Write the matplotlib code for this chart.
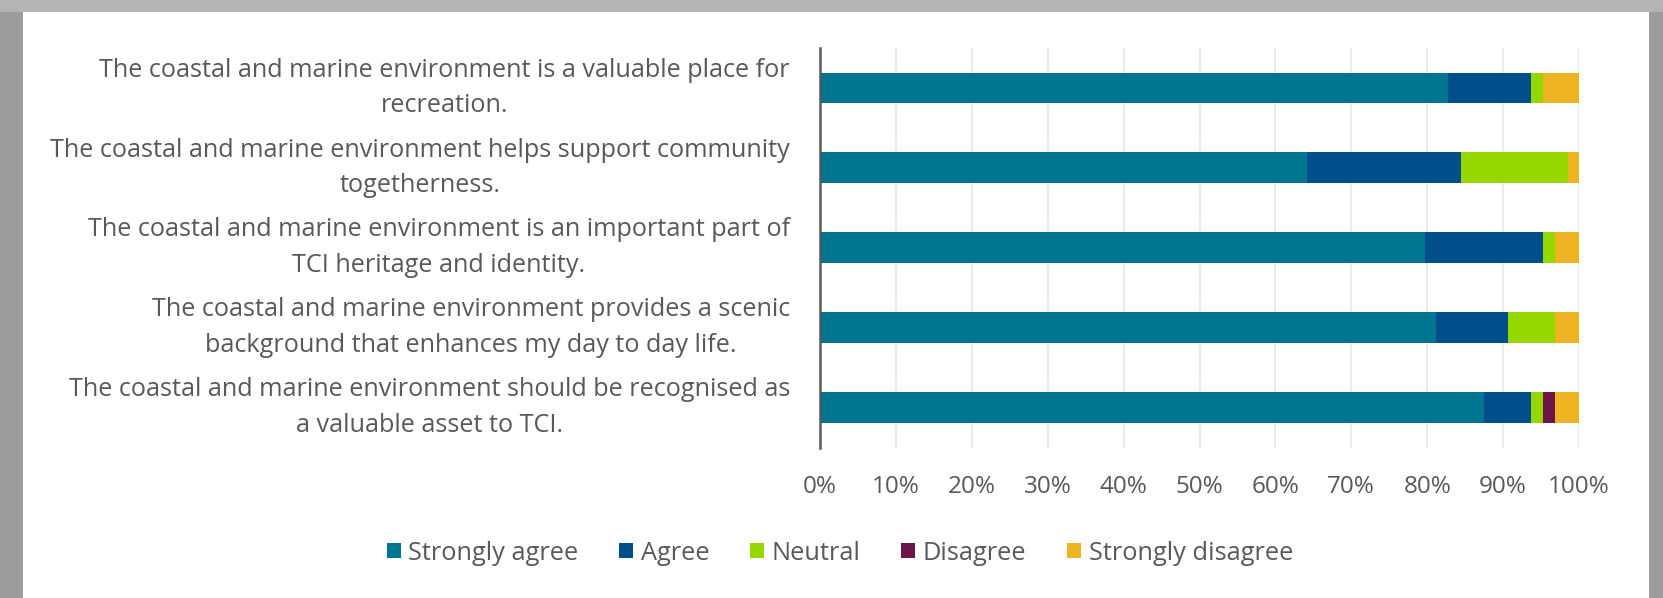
import matplotlib
matplotlib.use("Agg")
import matplotlib.pyplot as plt
from matplotlib.patches import Rectangle
from matplotlib.transforms import ScaledTranslation, blended_transform_factory
import numpy as np

categories = [
    "The coastal and marine environment is a valuable place for\nrecreation.",
    "The coastal and marine environment helps support community\ntogetherness.",
    "The coastal and marine environment is an important part of\nTCI heritage and identity.",
    "The coastal and marine environment provides a scenic\nbackground that enhances my day to day life.",
    "The coastal and marine environment should be recognised as\na valuable asset to TCI.",
]
series_names = ["Strongly agree", "Agree", "Neutral", "Disagree", "Strongly disagree"]
strongly_agree = [82.8, 64.1, 79.7, 81.2, 87.5]
agree = [10.9, 20.3, 15.6, 9.4, 6.2]
neutral = [1.6, 14.1, 1.6, 6.3, 1.6]
disagree = [0.0, 0.0, 0.0, 0.0, 1.6]
strongly_disagree = [4.7, 1.5, 3.1, 3.1, 3.1]
xtick_values = [0, 10, 20, 30, 40, 50, 60, 70, 80, 90, 100]
xtick_labels = ["0%", "10%", "20%", "30%", "40%", "50%", "60%", "70%", "80%", "90%", "100%"]

colors = ["#00758F", "#004F8A", "#97D700", "#6F1448", "#EEB422"]
text_color = "#595959"
W, H = 1663, 598

plt.rcParams['font.family'] = ['Open Sans', 'DejaVu Sans']
fig = plt.figure(figsize=(W / 100, H / 100), dpi=100)
fig.patch.set_facecolor("#a0a0a0")

# frame: gray border with a white card
fig.patches.append(Rectangle((0, 0), 1, 1, transform=fig.transFigure,
                             facecolor="#9c9c9c", edgecolor="none", zorder=-3))
fig.patches.append(Rectangle((0, (H - 12) / H), 1, 12 / H, transform=fig.transFigure,
                             facecolor="#b4b4b4", edgecolor="none", zorder=-3))
fig.patches.append(Rectangle((23 / W, 0), (1649 - 23) / W, (H - 12) / H,
                             transform=fig.transFigure, facecolor="white",
                             edgecolor="none", zorder=-2))

ax = fig.add_axes([820 / W, 1 - 447.5 / H, (1579 - 820) / W, (447.5 - 48) / H])
data = [strongly_agree, agree, neutral, disagree, strongly_disagree]
y = np.arange(len(categories))
left = np.zeros(len(categories))
for name, vals, c in zip(series_names, data, colors):
    vals = np.array(vals)
    ax.barh(y, vals, left=left, height=0.385, color=c, label=name, zorder=3)
    left += vals

ax.set_xlim(0, 100)
ax.set_ylim(len(categories) - 0.5, -0.5)
ax.set_yticks(y)
ax.set_yticklabels([])
label_tr = blended_transform_factory(ax.transAxes, ax.transData) + \
    ScaledTranslation(-0.30, 0.0, fig.dpi_scale_trans)
for yi, cat in zip(y, categories):
    ax.text(0, yi, cat, transform=label_tr, ha='right', va='center',
            multialignment='center', fontsize=18.2, color=text_color, linespacing=1.56)
ax.set_xticks(xtick_values)
ax.set_xticklabels(xtick_labels, fontsize=17.5, color=text_color)
ax.tick_params(axis='y', length=0)
ax.tick_params(axis='x', length=0, pad=20)
for s in ["top", "right", "bottom"]:
    ax.spines[s].set_visible(False)
ax.spines["left"].set_color("#595959")
ax.spines["left"].set_linewidth(1.8)
ax.spines["left"].set_zorder(4)
ax.grid(axis='x', color="#e8e8e8", linewidth=1.2, zorder=0)
ax.set_axisbelow(True)
ax.set_facecolor("white")

leg = fig.legend(loc="center", bbox_to_anchor=(840 / W, 1 - 553 / H), ncol=5,
                 frameon=False, fontsize=18.3, handlelength=0.55, handleheight=0.55,
                 handletextpad=0.3, columnspacing=1.6)
for t in leg.get_texts():
    t.set_color(text_color)

fig.savefig("out.png", dpi=100, facecolor=fig.get_facecolor())
